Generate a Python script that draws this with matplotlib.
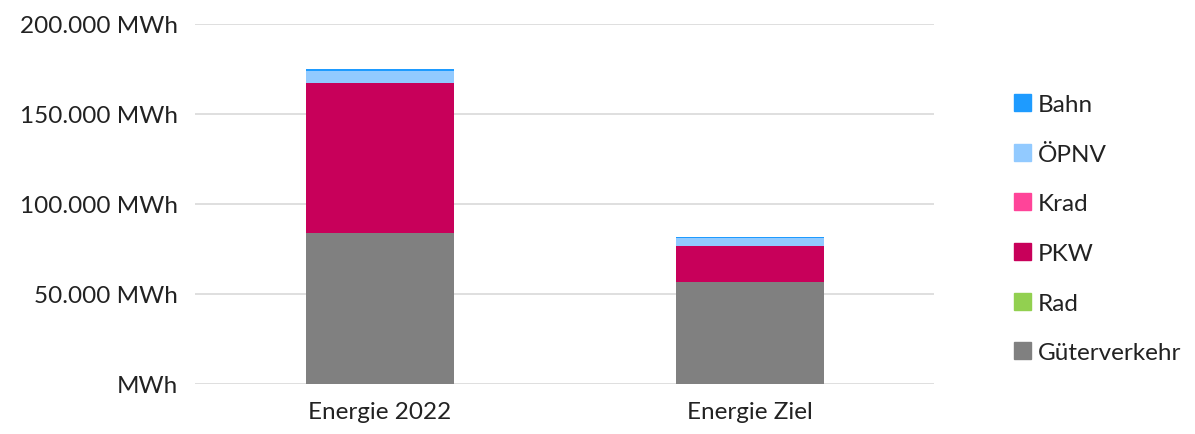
import numpy as np
import matplotlib.pyplot as plt
from matplotlib.ticker import FuncFormatter, MultipleLocator
from matplotlib.patches import Patch

# Daten (MWh)
kategorien = ["Energie 2022", "Energie Ziel"]
gueterverkehr = [83900, 56700]
rad = [0, 0]
pkw = [83000, 20000]
krad = [300, 150]
oepnv = [6500, 4400]
bahn = [1000, 500]

serien = [
    ("Güterverkehr", gueterverkehr, "#808080"),
    ("Rad", rad, "#92D050"),
    ("PKW", pkw, "#C8005A"),
    ("Krad", krad, "#FF4499"),
    ("ÖPNV", oepnv, "#92CAFF"),
    ("Bahn", bahn, "#1E9BFF"),
]

plt.rcParams["font.family"] = ["Lato", "DejaVu Sans"]

fig = plt.figure(figsize=(11.95, 4.35), dpi=100)
ax = fig.add_axes([0.163, 0.115, 0.619, 0.828])

x = np.arange(len(kategorien))
unten = np.zeros(len(kategorien))
for name, werte, farbe in serien:
    ax.bar(x, werte, width=0.4, bottom=unten, color=farbe, zorder=3)
    unten += np.array(werte)

ax.set_xlim(-0.5, 1.5)
ax.set_ylim(0, 200000)
ax.yaxis.set_major_locator(MultipleLocator(50000))


def fmt(v, pos):
    if v == 0:
        return "MWh"
    return f"{int(v):,} MWh".replace(",", ".")


ax.yaxis.set_major_formatter(FuncFormatter(fmt))
ax.set_xticks(x)
ax.set_xticklabels(kategorien)
ax.tick_params(axis="both", length=0, labelsize=17.5, colors="#222222")
ax.tick_params(axis="y", pad=12)
ax.tick_params(axis="x", pad=12)
ax.grid(axis="y", color="#D9D9D9", linewidth=1.2, zorder=0)
for s in ax.spines.values():
    s.set_visible(False)

handles = [Patch(color=farbe, label=name) for name, werte, farbe in serien[::-1]]
fig.legend(
    handles=handles,
    loc="upper left",
    bbox_to_anchor=(0.830, 0.832),
    frameon=False,
    fontsize=17.5,
    handlelength=0.7,
    handleheight=0.7,
    handletextpad=0.3,
    labelspacing=1.18,
    labelcolor="#222222",
)

fig.savefig("out.png", dpi=100)
